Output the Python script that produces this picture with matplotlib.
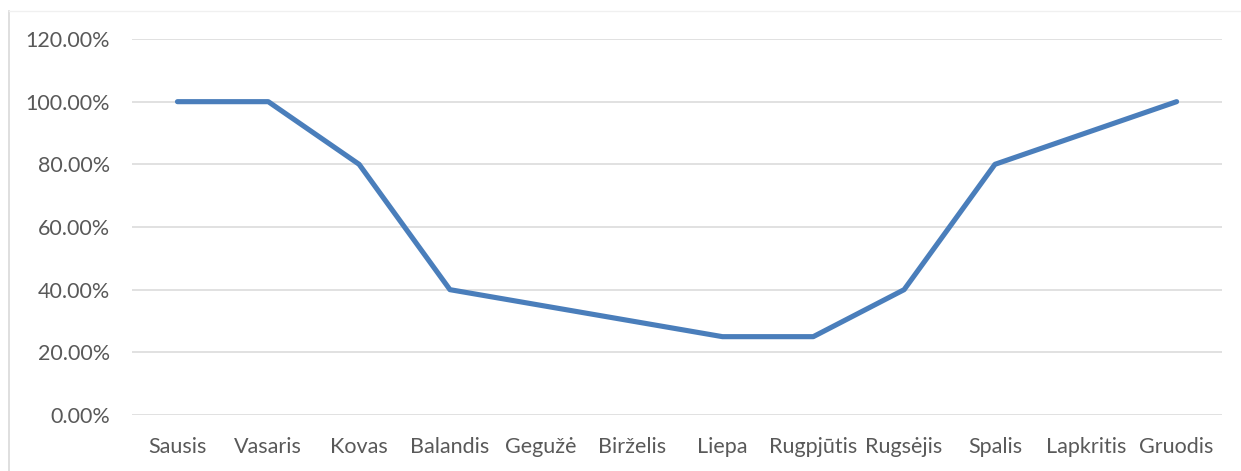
import matplotlib.pyplot as plt
from matplotlib.ticker import FuncFormatter
from matplotlib.lines import Line2D

# Duomenys
menesiai = ['Sausis', 'Vasaris', 'Kovas', 'Balandis', 'Gegužė', 'Birželis',
            'Liepa', 'Rugpjūtis', 'Rugsėjis', 'Spalis', 'Lapkritis', 'Gruodis']
reiksmes = [1.00, 1.00, 0.80, 0.40, 0.35, 0.30, 0.25, 0.25, 0.40, 0.80, 0.90, 1.00]
y_ticks = [0, 0.2, 0.4, 0.6, 0.8, 1.0, 1.2]

plt.rcParams['font.family'] = ['Lato', 'DejaVu Sans']

fig = plt.figure(figsize=(12.41, 4.71), dpi=100)
ax = fig.add_axes([0.1064, 0.1189, 0.8783, 0.7983])

x = list(range(len(menesiai)))
ax.plot(x, reiksmes, color='#4a7ebb', linewidth=3.7, solid_capstyle='round',
        solid_joinstyle='round', zorder=3)

ax.set_xlim(-0.5, len(menesiai) - 0.5)
ax.set_ylim(0, 1.2)
ax.set_yticks(y_ticks)
ax.yaxis.set_major_formatter(FuncFormatter(lambda v, p: f"{v*100:.2f}%"))
ax.set_xticks(x)
ax.set_xticklabels(menesiai)

ax.grid(axis='y', color='#d9d9d9', linewidth=1.1)
ax.set_axisbelow(True)
for s in ax.spines.values():
    s.set_visible(False)
ax.tick_params(axis='both', length=0, labelsize=15.5, labelcolor='#595959')
ax.tick_params(axis='y', pad=16)
ax.tick_params(axis='x', pad=16)

# rėmelio kraštai
fig.add_artist(Line2D([9/1241, 9/1241], [0, 1 - 11/471], color='#d9d9d9', linewidth=1.2))
fig.add_artist(Line2D([9/1241, 1], [1 - 11/471, 1 - 11/471], color='#f0f0f0', linewidth=1))

fig.savefig('out.png', dpi=100)
